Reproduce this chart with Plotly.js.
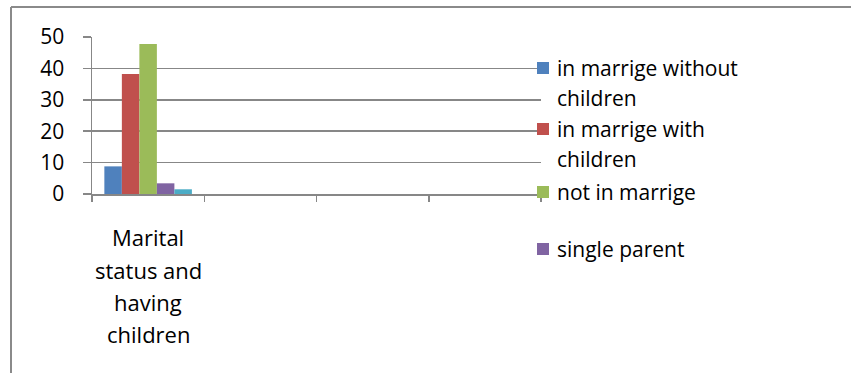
<!DOCTYPE html>
<html>
<head>
<meta charset="utf-8">
<script src="https://cdn.plot.ly/plotly-3.0.1.min.js"></script>
<style>
  html, body { margin: 0; padding: 0; background: #ffffff; }
  #chart { width: 851px; height: 373px; }
</style>
</head>
<body>
<div id="chart"></div>
<script>
// Survey answers by marital status (percent of respondents)
const category = "Marital status and having children";
const categoryLines = ["Marital", "status and", "having", "children"];
const seriesNames = [
  "in marrige without<br>children",
  "in marrige with<br>children",
  "not in marrige",
  "single parent",
  "other"
];
const seriesValues = [8.8, 38.2, 47.8, 3.4, 1.5];
const seriesColors = ["#4F81BD", "#C0504D", "#9BBB59", "#8064A2", "#4BACC6"];
const legendCount = 4;               // entries that fit in the key
const yTicks = [0, 10, 20, 30, 40, 50];
const slots = [category, " ", "  ", "   "];

const FONT = "Open Sans, Lato, sans-serif";
const GRID = "#878787";

// plot-area geometry in pixels
const W = 851, H = 373;
const M = { l: 92, r: 310, t: 37, b: 179 };
const pw = W - M.l - M.r, ph = H - M.t - M.b;
const px = x => (x - M.l) / pw;
const py = y => 1 - (y - M.t) / ph;

const traces = seriesNames.map((name, i) => ({
  type: "bar",
  name: name,
  x: [category],
  y: [seriesValues[i]],
  marker: { color: seriesColors[i], line: { width: 0 } },
  showlegend: false,
  hoverinfo: "name+y"
}));

const shapes = [];
const annotations = [];

// chart frame: top and left edges
shapes.push({ type: "line", xref: "paper", yref: "paper",
  x0: px(11), x1: px(W + 5), y0: py(7), y1: py(7),
  line: { color: "#8a8a8a", width: 2 } });
shapes.push({ type: "line", xref: "paper", yref: "paper",
  x0: px(11), x1: px(11), y0: py(7), y1: py(H + 5),
  line: { color: "#8a8a8a", width: 2 } });

// key on the right
const keyRows = [68, 129, 192, 249];
const lineGap = 30;
for (let i = 0; i < legendCount; i++) {
  const yc = keyRows[i];
  shapes.push({ type: "rect", xref: "paper", yref: "paper",
    x0: px(537), x1: px(549), y0: py(yc - 6), y1: py(yc + 6),
    fillcolor: seriesColors[i], line: { width: 0 } });
  seriesNames[i].split("<br>").forEach((txt, k) => {
    annotations.push({ xref: "paper", yref: "paper",
      x: px(555), y: py(yc + k * lineGap),
      xanchor: "left", yanchor: "middle", showarrow: false,
      text: txt, font: { family: FONT, size: 21, color: "#000" } });
  });
}

// category label, one line per row
const catRows = [237, 270, 302, 334];
categoryLines.forEach((txt, k) => {
  annotations.push({ xref: "x", yref: "paper",
    x: category, y: py(catRows[k]),
    xanchor: "center", yanchor: "middle", showarrow: false,
    text: txt, font: { family: FONT, size: 22, color: "#000" } });
});

const layout = {
  width: W, height: H,
  margin: M,
  paper_bgcolor: "#ffffff",
  plot_bgcolor: "#ffffff",
  font: { family: FONT, color: "#000" },
  barmode: "group",
  bargap: 0.22,
  bargroupgap: 0,
  showlegend: false,
  xaxis: {
    type: "category",
    categoryorder: "array",
    categoryarray: slots,
    range: [-0.5, slots.length - 0.5],
    tickson: "boundaries",
    ticks: "outside", ticklen: 6, tickwidth: 1.5, tickcolor: GRID,
    showticklabels: false,
    showgrid: false,
    showline: true, linecolor: GRID, linewidth: 1.5,
    zeroline: false, fixedrange: true
  },
  yaxis: {
    range: [0, 50],
    tickvals: yTicks,
    ticktext: yTicks.map(String),
    ticks: "outside", ticklen: 8, tickwidth: 1.5, tickcolor: GRID,
    ticklabelstandoff: 14,
    tickfont: { family: FONT, size: 21, color: "#000" },
    showgrid: true, gridcolor: GRID, gridwidth: 1.5,
    showline: true, linecolor: GRID, linewidth: 1.5,
    zeroline: false, fixedrange: true
  },
  shapes: shapes,
  annotations: annotations
};

Plotly.newPlot("chart", traces, layout, { displayModeBar: false, staticPlot: true });
</script>
</body>
</html>
